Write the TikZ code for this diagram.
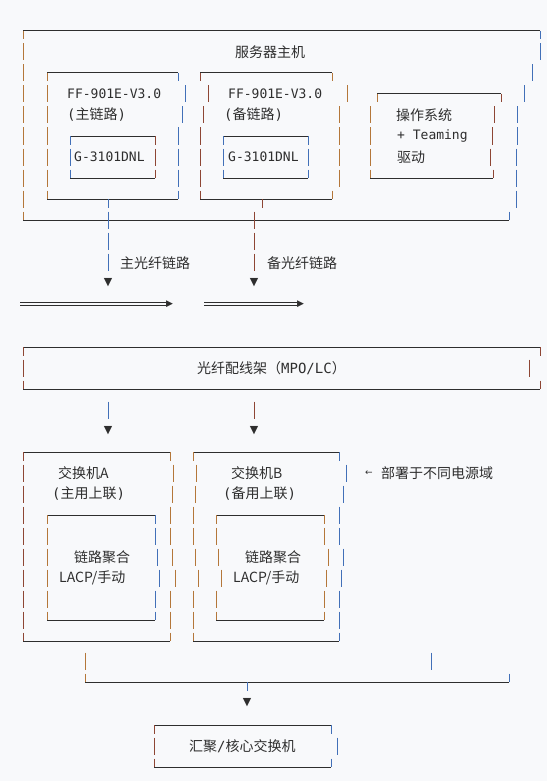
\documentclass[tikz,border=0pt]{standalone}
\usepackage{fontspec}
\setmainfont{Noto Sans CJK SC}
\newfontfamily\monofont{DejaVu Sans Mono}
\newfontfamily\symfont{DejaVu Sans}
\usetikzlibrary{arrows}

\definecolor{bgcol}{HTML}{F8F9FB}
\definecolor{inkcol}{HTML}{2E2E2E}
\definecolor{barorange}{HTML}{B4773A}
\definecolor{barblue}{HTML}{4270B8}
\definecolor{barred}{HTML}{8E4634}

% one text row of a box side, corners, and a whole side
\newcommand{\vrow}[3]{\draw[#1] (#2,#3-8.5) -- (#2,#3+8.5);}
\newcommand{\ctop}[3]{\draw[#1] (#2,#3) -- (#2,#3+8.5);}
\newcommand{\cbot}[3]{\draw[#1] (#2,#3-8.5) -- (#2,#3);}
\newcommand{\vside}[4]{\draw[#1,dash pattern=on 17pt off 4pt,dash phase=8.5pt] (#2,#3) -- (#2,#4);}

\begin{document}
\begin{tikzpicture}[x=1pt,y=-1pt,
  hline/.style={draw=inkcol,line width=1pt},
  barO/.style={draw=barorange,line width=1pt},
  barB/.style={draw=barblue,line width=1pt},
  barR/.style={draw=barred,line width=1pt},
  dbl/.style={draw=inkcol,line width=0.8pt,double=bgcol,double distance=1.6pt},
  cjk node/.style={anchor=west,inner sep=0pt,text=inkcol,font=\fontsize{14}{16}\selectfont},
  mono node/.style={anchor=west,inner sep=0pt,text=inkcol,font=\monofont\fontsize{13}{15}\selectfont},
  tip node/.style={inner sep=0pt,text=inkcol,font=\symfont\fontsize{11}{11}\selectfont}]
  \useasboundingbox (0,0) rectangle (547,781);
  \fill[bgcol] (0,0) rectangle (547,781);

  % server host
  \draw[hline] (23,31) -- (540,31);
  \draw[hline] (23,220) -- (509,220);
  \vside{barO}{23}{31}{220}
  \ctop{barB}{540}{31}
  \foreach \x/\y in {540/52,532/73,524/94,517/115,517/136,516/157,516/178,516/199}
    {\vrow{barB}{\x}{\y}}
  \cbot{barB}{509}{220}

  % primary card
  \draw[hline] (47,73) -- (178,73);
  \draw[hline] (47,199) -- (178,199);
  \vside{barO}{47}{73}{199}
  \ctop{barB}{178}{73}
  \foreach \x/\y in {185/94,182/115,178/136,178/157,178/178}
    {\vrow{barB}{\x}{\y}}
  \cbot{barB}{178}{199}
  \draw[hline] (70,136) -- (155,136);
  \draw[hline] (70,178) -- (155,178);
  \vside{barB}{70}{136}{178}
  \vside{barR}{155}{136}{178}

  % backup card
  \draw[hline] (200,73) -- (332,73);
  \draw[hline] (200,199) -- (332,199);
  \ctop{barR}{200}{73}
  \foreach \x/\y in {208/94,203/115,200/136,200/157,200/178}
    {\vrow{barR}{\x}{\y}}
  \cbot{barR}{200}{199}
  \ctop{barO}{332}{73}
  \foreach \x/\y in {347/94,339/115,339/136,339/157,339/178}
    {\vrow{barO}{\x}{\y}}
  \cbot{barO}{332}{199}
  \draw[hline] (223,136) -- (308,136);
  \draw[hline] (223,178) -- (308,178);
  \vside{barB}{223}{136}{178}
  \vside{barB}{308}{136}{178}

  % OS driver
  \draw[hline] (377,94) -- (501,94);
  \draw[hline] (370,178) -- (493,178);
  \ctop{barO}{377}{94}
  \foreach \y in {115,136,157}
    {\vrow{barO}{370}{\y}}
  \cbot{barO}{370}{178}
  \ctop{barR}{501}{94}
  \foreach \x/\y in {494/115,492/136,490/157}
    {\vrow{barR}{\x}{\y}}
  \cbot{barR}{493}{178}

  % fibre links
  \coordinate (outA) at (108,199);
  \coordinate (endA) at (108,270.5);
  \draw[barB,dash pattern=on 17pt off 4pt,dash phase=8.5pt] (outA) -- (endA);
  \coordinate (outB) at (262,199);
  \coordinate (midB) at (262,207.5);
  \draw[barR] (outB) -- (midB);
  \coordinate (topB) at (254,211.5);
  \coordinate (endB) at (254,270.5);
  \draw[barR,dash pattern=on 17pt off 4pt] (topB) -- (endB);
  \node[tip node] (tipA) at (108,283) {▼};
  \node[tip node] (tipB) at (254,283) {▼};

  \coordinate (dblA) at (20,304);
  \node[tip node,anchor=west,font=\symfont\fontsize{9}{9}\selectfont] (dblAtip) at (166,304) {▶};
  \draw[dbl] (dblA) -- (dblAtip.west);
  \coordinate (dblB) at (204,304);
  \node[tip node,anchor=west,font=\symfont\fontsize{9}{9}\selectfont] (dblBtip) at (297,304) {▶};
  \draw[dbl] (dblB) -- (dblBtip.west);

  % patch panel
  \draw[hline] (23,347) -- (540,347);
  \draw[hline] (23,389) -- (540,389);
  \vside{barR}{23}{347}{389}
  \ctop{barR}{540}{347}
  \vrow{barR}{529}{368}
  \cbot{barR}{540}{389}

  \vrow{barB}{108}{410}
  \vrow{barR}{254}{410}
  \node[tip node] (tipC) at (108,431) {▼};
  \node[tip node] (tipD) at (254,431) {▼};

  % switch A
  \draw[hline] (23,452) -- (170,452);
  \draw[hline] (23,641) -- (170,641);
  \vside{barR}{23}{452}{641}
  \ctop{barO}{170}{452}
  \foreach \x/\y in {173/473,172/494,170/515,170/536,172/557,175/578,170/599,170/620}
    {\vrow{barO}{\x}{\y}}
  \cbot{barO}{170}{641}
  \draw[hline] (47,515) -- (155,515);
  \draw[hline] (47,620) -- (155,620);
  \vside{barO}{47}{515}{620}
  \ctop{barB}{155}{515}
  \foreach \x/\y in {155/536,157/557,159/578,155/599}
    {\vrow{barB}{\x}{\y}}
  \cbot{barB}{155}{620}

  % switch B
  \draw[hline] (193,452) -- (339,452);
  \draw[hline] (193,641) -- (339,641);
  \ctop{barO}{193}{452}
  \foreach \x/\y in {196/473,195/494,193/515,193/536,195/557,198/578,193/599,193/620}
    {\vrow{barO}{\x}{\y}}
  \cbot{barO}{193}{641}
  \ctop{barB}{339}{452}
  \foreach \x/\y in {346/473,343.5/494,339/515,339/536,343.5/557,341/578,339/599,339/620}
    {\vrow{barB}{\x}{\y}}
  \cbot{barB}{339}{641}
  \draw[hline] (216,515) -- (324,515);
  \draw[hline] (216,620) -- (324,620);
  \ctop{barO}{216}{515}
  \foreach \x/\y in {216/536,218/557,221/578,216/599}
    {\vrow{barO}{\x}{\y}}
  \cbot{barO}{216}{620}
  \ctop{barO}{324}{515}
  \foreach \x/\y in {324/536,328/557,326/578,324/599}
    {\vrow{barO}{\x}{\y}}
  \cbot{barO}{324}{620}

  % uplinks to core
  \vrow{barO}{85}{661}
  \vrow{barB}{431}{661}
  \coordinate (joinL) at (85,682);
  \coordinate (joinR) at (509,682);
  \draw[hline] (joinL) -- (joinR);
  \cbot{barO}{85}{682}
  \cbot{barB}{509}{682}
  \coordinate (joinM) at (247,682);
  \coordinate (joinMend) at (247,690.5);
  \draw[barB] (joinM) -- (joinMend);
  \node[tip node] (tipE) at (247,703) {▼};

  % core switch
  \draw[hline] (154,725) -- (331,725);
  \draw[hline] (154,767) -- (331,767);
  \vside{barR}{154}{725}{767}
  \ctop{barB}{331}{725}
  \vrow{barB}{337}{746}
  \cbot{barB}{331}{767}

  % labels
  \node[cjk node] (host) at (235,52) {服务器主机};
  \node[mono node] (cardA) at (67,94) {FF-901E-V3.0};
  \node[cjk node] (cardArole) at (67,115) {{\monofont(}主链路{\monofont)}};
  \node[mono node] (chipA) at (74,157) {G-3101DNL};
  \node[mono node] (cardB) at (228,94) {FF-901E-V3.0};
  \node[cjk node] (cardBrole) at (224,115) {{\monofont(}备链路{\monofont)}};
  \node[mono node] (chipB) at (228,157) {G-3101DNL};
  \node[cjk node] (os) at (396,115) {操作系统};
  \node[mono node] (team) at (397,136) {+ Teaming};
  \node[cjk node] (drv) at (397,157) {驱动};
  \node[cjk node] (fibA) at (120,263) {主光纤链路};
  \node[cjk node] (fibB) at (267,263) {备光纤链路};
  \node[cjk node] (panel) at (197,368) {光纤配线架（{\monofont MPO/LC}）};
  \node[cjk node] (swA) at (58,473) {交换机A};
  \node[cjk node] (swArole) at (52,494) {{\monofont(}主用上联{\monofont)}};
  \node[cjk node] (lagA) at (74,557) {链路聚合};
  \node[cjk node] (lacpA) at (59,578) {LACP/手动};
  \node[cjk node] (swB) at (231,473) {交换机B};
  \node[cjk node] (swBrole) at (223,494) {{\monofont(}备用上联{\monofont)}};
  \node[cjk node] (lagB) at (245,557) {链路聚合};
  \node[cjk node] (lacpB) at (233,578) {LACP/手动};
  \node[tip node,font=\symfont\fontsize{9}{9}\selectfont] (notearrow) at (369,473) {←};
  \node[cjk node] (note) at (381,473) {部署于不同电源域};
  \node[cjk node] (core) at (189,746) {汇聚{\monofont/}核心交换机};
\end{tikzpicture}
\end{document}
